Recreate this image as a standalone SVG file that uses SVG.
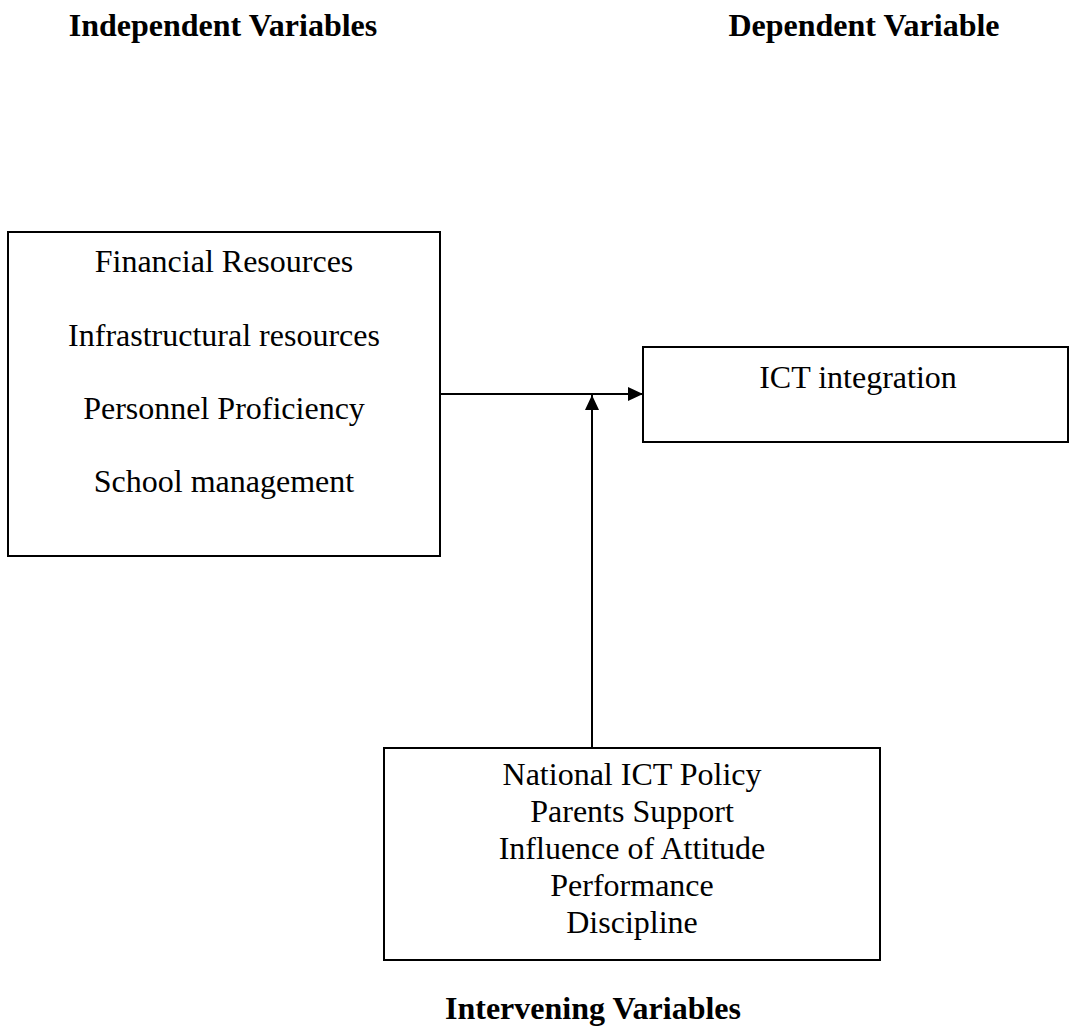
<svg xmlns="http://www.w3.org/2000/svg" width="1069" height="1026" viewBox="0 0 1069 1026">
<style>
.box{fill:#fff;stroke:#000;stroke-width:2}
.t{font-family:"Liberation Serif","Times New Roman",serif;font-size:32px;fill:#000;text-anchor:middle}
.h{font-family:"Liberation Serif","Times New Roman",serif;font-size:32px;font-weight:bold;fill:#000;text-anchor:middle}
.c{stroke:#000;stroke-width:2;fill:none}
</style>
<defs>
<marker id="arr" markerWidth="16" markerHeight="14" refX="15" refY="7" orient="auto" markerUnits="userSpaceOnUse">
<path d="M0,0 L15,7 L0,14 Z" fill="#000"/>
</marker>
</defs>
<rect width="1069" height="1026" fill="#fff"/>
<g id="headers">
<text class="h" x="223" y="36">Independent Variables</text>
<text class="h" x="864" y="36">Dependent Variable</text>
</g>
<g id="independent">
<rect class="box" x="8" y="232" width="432" height="324"/>
<text class="t" x="224" y="272">Financial Resources</text>
<text class="t" x="224" y="346">Infrastructural resources</text>
<text class="t" x="224" y="419">Personnel Proficiency</text>
<text class="t" x="224" y="492">School management</text>
</g>
<g id="dependent">
<rect class="box" x="643" y="347" width="425" height="95"/>
<text class="t" x="858" y="388">ICT integration</text>
</g>
<g id="intervening">
<rect class="box" x="384" y="748" width="496" height="212"/>
<text class="t" x="632" y="785">National ICT Policy</text>
<text class="t" x="632" y="822">Parents Support</text>
<text class="t" x="632" y="859">Influence of Attitude</text>
<text class="t" x="632" y="896">Performance</text>
<text class="t" x="632" y="933">Discipline</text>
<text class="h" x="593" y="1019">Intervening Variables</text>
</g>
<g id="connectors">
<line class="c" x1="440" y1="394" x2="643" y2="394" marker-end="url(#arr)"/>
<line class="c" x1="592" y1="748" x2="592" y2="395" marker-end="url(#arr)"/>
</g>
</svg>
